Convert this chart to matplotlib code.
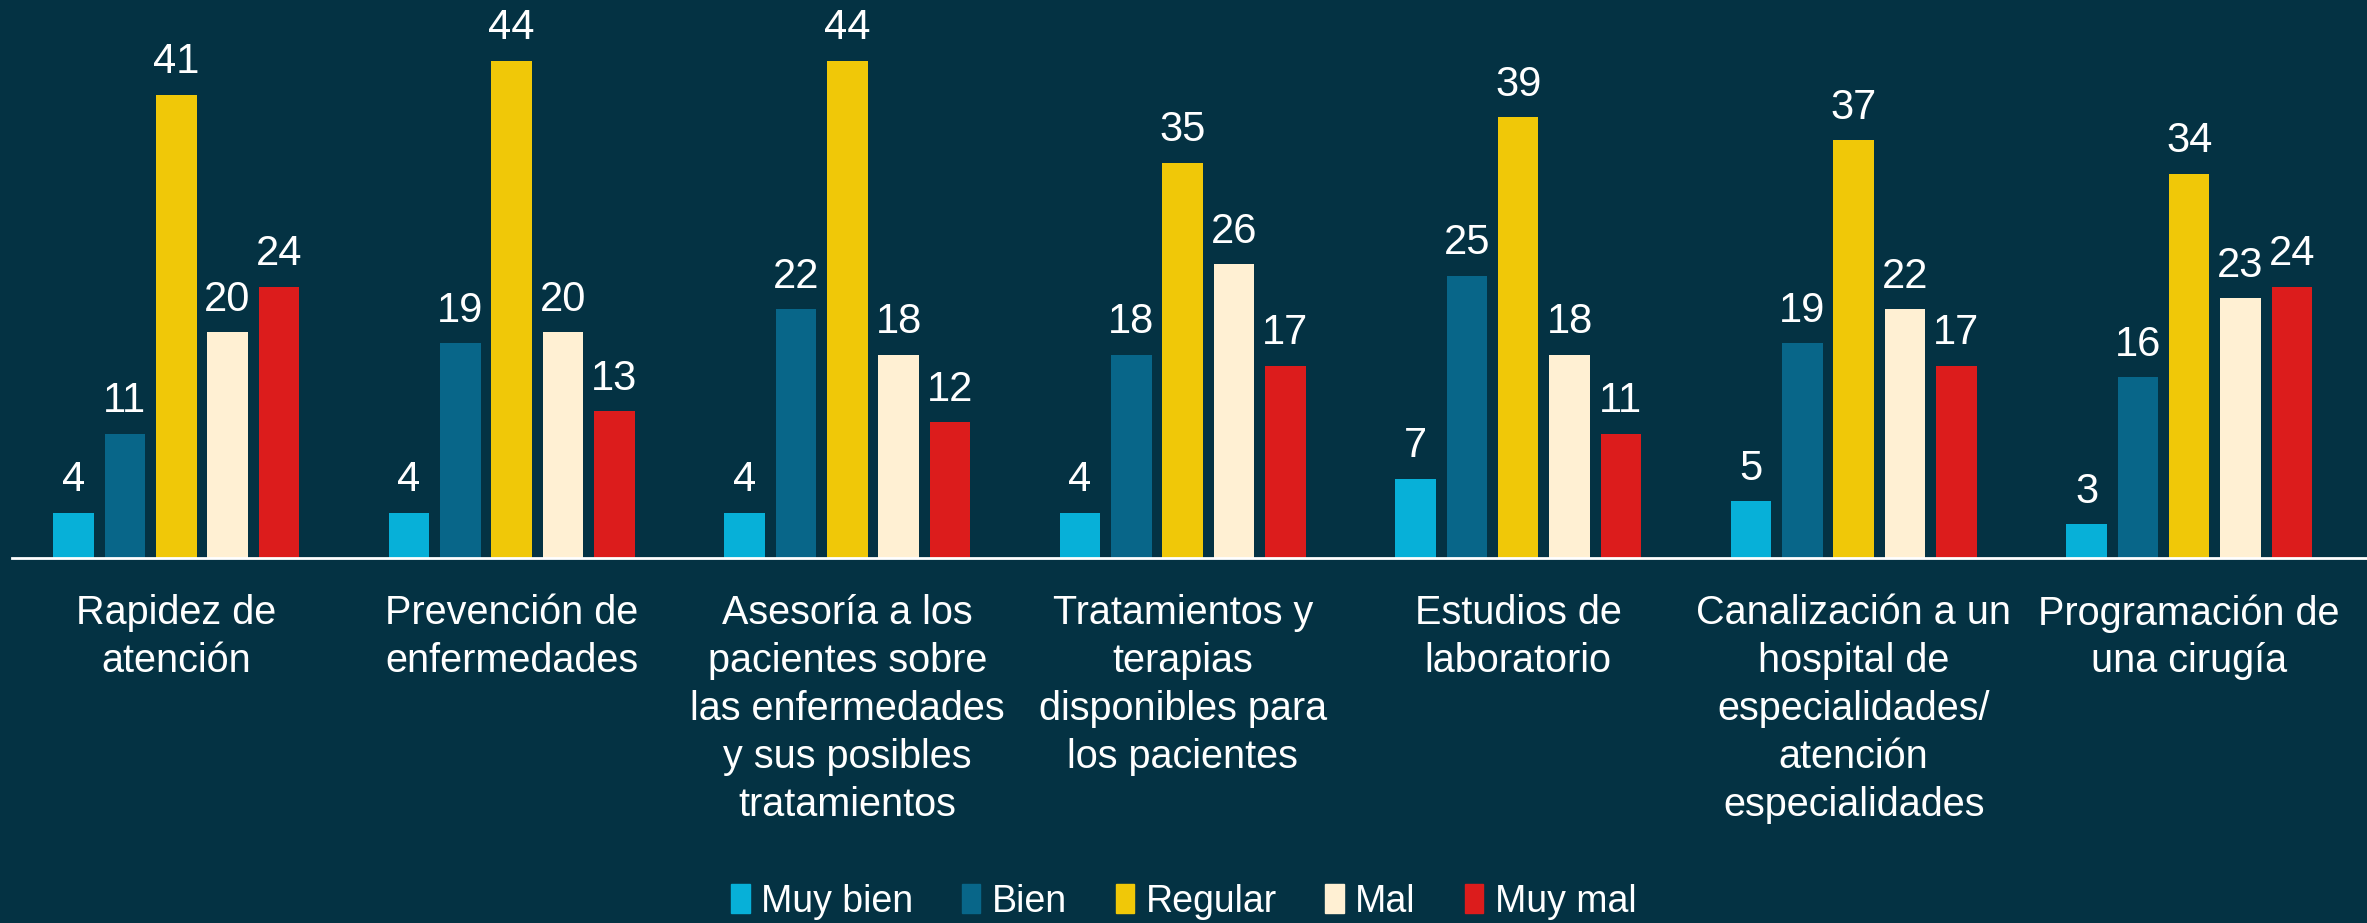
import numpy as np
import matplotlib
matplotlib.use("Agg")
import matplotlib.pyplot as plt
from matplotlib.patches import Patch

# survey results (percent)
categories = ["Rapidez de\natención",
              "Prevención de\nenfermedades",
              "Asesoría a los\npacientes sobre\nlas enfermedades\ny sus posibles\ntratamientos",
              "Tratamientos y\nterapias\ndisponibles para\nlos pacientes",
              "Estudios de\nlaboratorio",
              "Canalización a un\nhospital de\nespecialidades/\natención\nespecialidades",
              "Programación de\nuna cirugía"]
series_names = ["Muy bien", "Bien", "Regular", "Mal", "Muy mal"]
muy_bien = [4, 4, 4, 4, 7, 5, 3]
bien = [11, 19, 22, 18, 25, 19, 16]
regular = [41, 44, 44, 35, 39, 37, 34]
mal = [20, 20, 18, 26, 18, 22, 23]
muy_mal = [24, 13, 12, 17, 11, 17, 24]

colors = ["#07B0D8", "#086689", "#F0C808", "#FFF0D3", "#DC1C1C"]
BG = "#043243"

plt.rcParams['font.family'] = ['Liberation Sans Narrow', 'Liberation Sans', 'DejaVu Sans']

fig = plt.figure(figsize=(23.67, 9.23), dpi=100, facecolor=BG)
ax = fig.add_axes([0.005, 0.3955, 0.995, 0.6045])
ax.set_facecolor(BG)

x = np.arange(len(categories))
step = 0.153
width = 0.121
all_series = [muy_bien, bien, regular, mal, muy_mal]
for i, vals in enumerate(all_series):
    offs = (i - 2) * step
    bars = ax.bar(x + offs, vals, width, color=colors[i], label=series_names[i])
    for b, v in zip(bars, vals):
        ax.annotate(str(v), (b.get_x() + b.get_width() / 2, v), xytext=(0, 9),
                    textcoords='offset points', ha='center', va='bottom',
                    color='white', fontsize=30)

ax.set_xlim(-0.49, 6.53)
ax.set_ylim(0, 49.4)
ax.set_yticks([])
ax.set_xticks(x)
ax.set_xticklabels(categories, color='white', fontsize=28.5, linespacing=1.33)
ax.tick_params(axis='x', length=0, pad=26)
for s in ['top', 'right', 'left']:
    ax.spines[s].set_visible(False)
ax.spines['bottom'].set_color('white')
ax.spines['bottom'].set_linewidth(2)

handles = [Patch(color=c) for c in colors]
leg = fig.legend(handles, series_names, loc='center', bbox_to_anchor=(0.5, 0.023), ncol=5,
                 frameon=False, fontsize=27, handlelength=0.5, handleheight=0.8,
                 handletextpad=0.3, columnspacing=1.3)
for t in leg.get_texts():
    t.set_color('white')

fig.savefig("out.png", dpi=100, facecolor=BG)
